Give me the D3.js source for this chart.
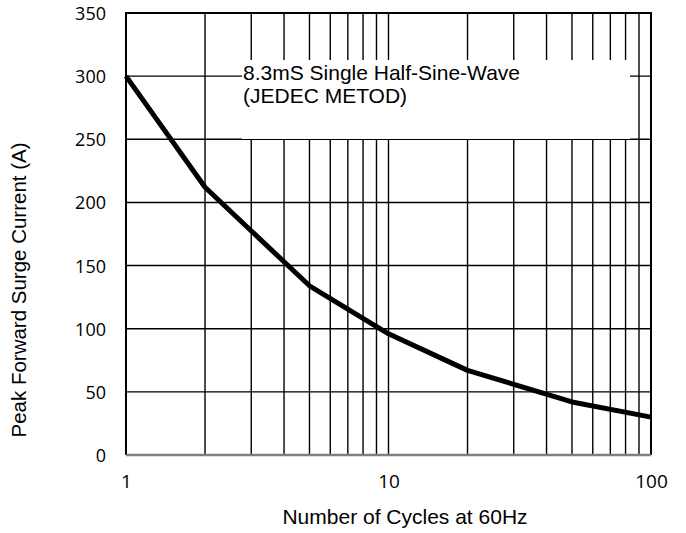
<!DOCTYPE html>
<html>
<head>
<meta charset="utf-8">
<script src="https://cdn.jsdelivr.net/npm/d3@7"></script>
<style>
  body { margin: 0; background: #fff; }
  svg { display: block; }
</style>
</head>
<body>
<div id="chart"></div>
<script>
// surge curve
const cycles = [1, 2, 5, 10, 20, 50, 100];
const current = [300, 212, 134, 96, 67, 42, 30];

const xTicks = [1, 10, 100];
const yTicks = [0, 50, 100, 150, 200, 250, 300, 350];
const noteLines = ['8.3mS Single Half-Sine-Wave', '(JEDEC METOD)'];

const width = 686;
const height = 533;
const margin = { top: 13, right: 35, bottom: 78, left: 126 };

const svg = d3.select('#chart')
  .append('svg')
  .attr('width', width)
  .attr('height', height);

const x = d3.scaleLog()
  .domain([1, 100])
  .range([margin.left, width - margin.right]);

const y = d3.scaleLinear()
  .domain([0, 350])
  .range([height - margin.bottom, margin.top]);

// grid
const grid = svg.append('g').attr('stroke', '#000').attr('stroke-width', 1.4);
grid.selectAll('.vgrid')
  .data(x.ticks().filter(d => d > 1 && d < 100))
  .join('line')
    .attr('class', 'vgrid')
    .attr('x1', d => x(d)).attr('x2', d => x(d))
    .attr('y1', y(0)).attr('y2', y(350));
grid.selectAll('.hgrid')
  .data(yTicks.filter(d => d > 0 && d < 350))
  .join('line')
    .attr('class', 'hgrid')
    .attr('x1', x(1)).attr('x2', x(100))
    .attr('y1', d => y(d)).attr('y2', d => y(d));

// white note box over the grid
const box = svg.append('g');
box.append('rect')
  .attr('x', 242).attr('y', 60)
  .attr('width', 388).attr('height', 79)
  .attr('fill', '#fff');
box.selectAll('text')
  .data(noteLines)
  .join('text')
    .attr('x', 243)
    .attr('y', (d, i) => 80 + i * 23)
    .attr('font-family', 'Liberation Sans, Arial, sans-serif')
    .attr('font-size', 21)
    .text(d => d);

// frame
svg.append('path')
  .attr('d', `M${x(1)},${y(0)}V${y(350)}H${x(100)}V${y(0)}`)
  .attr('fill', 'none')
  .attr('stroke', '#000')
  .attr('stroke-width', 2);
svg.append('line')
  .attr('x1', x(1)).attr('x2', x(100))
  .attr('y1', y(0)).attr('y2', y(0))
  .attr('stroke', '#808080')
  .attr('stroke-width', 2.5);

// curve
const line = d3.line()
  .x((d, i) => x(cycles[i]))
  .y(d => y(d));
svg.append('path')
  .datum(current)
  .attr('d', line)
  .attr('fill', 'none')
  .attr('stroke', '#000')
  .attr('stroke-width', 5)
  .attr('stroke-linejoin', 'round');

// axes (labels only)
const yAxis = svg.append('g')
  .attr('transform', `translate(${margin.left - 20},0)`)
  .call(d3.axisLeft(y).tickValues(yTicks).tickSize(0).tickPadding(0));
yAxis.select('.domain').remove();
yAxis.selectAll('text')
  .attr('font-family', 'Open Sans, sans-serif')
  .attr('font-size', 18)
  .attr('fill', '#000')
  .attr('dy', '0.36em');

const xAxis = svg.append('g')
  .attr('transform', `translate(0,${height - margin.bottom})`)
  .call(d3.axisBottom(x).tickValues(xTicks).tickFormat(d3.format('d')).tickSize(0).tickPadding(0));
xAxis.select('.domain').remove();
xAxis.selectAll('text')
  .attr('font-family', 'Open Sans, sans-serif')
  .attr('font-size', 19)
  .attr('fill', '#000')
  .attr('dy', 0)
  .attr('y', 33);

// titles
svg.append('text')
  .attr('x', 405)
  .attr('y', 524)
  .attr('text-anchor', 'middle')
  .attr('font-family', 'Liberation Sans, Arial, sans-serif')
  .attr('font-size', 21)
  .text('Number of Cycles at 60Hz');

svg.append('text')
  .attr('transform', 'translate(26,290) rotate(-90)')
  .attr('text-anchor', 'middle')
  .attr('font-family', 'Liberation Sans, Arial, sans-serif')
  .attr('font-size', 20.5)
  .text('Peak Forward Surge Current (A)');
</script>
</body>
</html>
